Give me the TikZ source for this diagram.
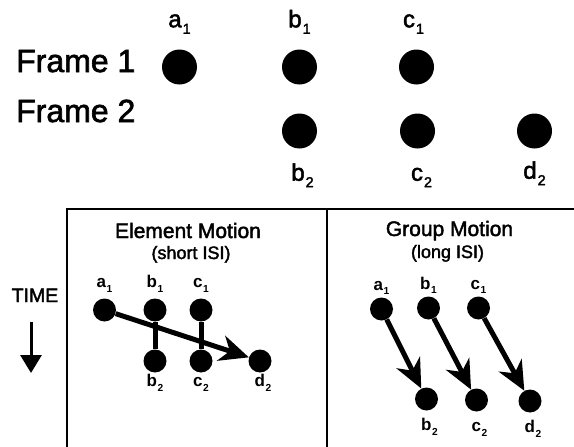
\documentclass[tikz,border=0pt]{standalone}
\usepackage{fontspec}
\setmainfont{Liberation Sans}
\newfontfamily\medfont[FakeBold=2]{Liberation Sans}
\usepackage{graphicx}
\usetikzlibrary{
  positioning,
  arrows.meta
}
\tikzset{
  bigdot/.style={
    circle,
    fill=black,
    inner sep=0pt,
    minimum size=35pt,
  },
  smalldot/.style={
    bigdot,
    minimum size=23pt,
  },
  framelbl/.style={
    font=\medfont\fontsize{32}{38}\selectfont,
    inner sep=0pt,
    anchor=base west,
  },
  ptlbl/.style={
    font=\medfont\fontsize{24}{28}\selectfont,
    inner sep=0pt,
  },
  smlbl/.style={
    font=\fontsize{17}{20}\selectfont\bfseries,
    inner sep=0pt,
  },
  title/.style={
    font=\medfont\fontsize{21}{25}\selectfont,
    inner sep=0pt,
    anchor=base,
  },
  subtitle/.style={
    title,
    font=\medfont\fontsize{18}{22}\selectfont,
  },
  link/.style={
    line width=5pt,
    -,
  },
  move/.style={
    link,
    -{Stealth[length=29pt, width=26pt, inset=9pt]},
  },
  panel/.style={
    line width=2pt,
  },
}
\newcommand{\pnt}[2]{#1\kern.04em\raisebox{-.27em}{\scalebox{.6}{#2}}}

\begin{document}
\begin{tikzpicture}[x=1pt, y=-1pt]
		\useasboundingbox (0,0) rectangle (574,447);

		% frames
		\node[framelbl] (f1) at (16,72) {Frame 1};
		\node[framelbl] (f2) at (16,122) {Frame 2};

		\node[bigdot] (a1) at (179.5,67) {};
		\node[bigdot] (b1) at (299.5,67) {};
		\node[bigdot] (c1) at (416.5,67) {};
		\node[bigdot] (b2) at (299.5,131) {};
		\node[bigdot] (c2) at (417.5,131) {};
		\node[bigdot] (d2) at (534.5,131) {};

		\node[ptlbl, above=22pt of a1, anchor=base] {\pnt{a}{1}};
		\node[ptlbl, above=22pt of b1, anchor=base] {\pnt{b}{1}};
		\node[ptlbl, above=22pt of c1, anchor=base, xshift=-3pt] {\pnt{c}{1}};
		\node[ptlbl, below=32pt of b2, anchor=base, xshift=3pt] {\pnt{b}{2}};
		\node[ptlbl, below=32pt of c2, anchor=base, xshift=4pt] {\pnt{c}{2}};
		\node[ptlbl, below=30pt of d2, anchor=base] {\pnt{d}{2}};

		% panels
		\draw[panel] (67,447) -- (67,209) -- (574,209);
		\draw[panel] (327,209) -- (327,447);

		\node[title] (tel) at (188,238) {Element Motion};
		\node[subtitle] (sel) at (191,259) {(short ISI)};
		\node[title] (tgr) at (449.5,236) {Group Motion};
		\node[subtitle] (sgr) at (447.5,258) {(long ISI)};

		% time
		\node[subtitle, font=\medfont\fontsize{19.5}{23}\selectfont] (time) at (35,302) {TIME};
		\coordinate (t0) at (31,322);
		\coordinate (t1) at (31,373);
		\draw[line width=3pt, -{Triangle[length=18pt, width=21pt]}] (t0) -- (t1);

		% element motion
		\node[smalldot] (a1e) at (104.5,310) {};
		\node[smalldot] (b1e) at (155,310) {};
		\node[smalldot] (c1e) at (201,310) {};
		\node[smalldot] (b2e) at (155,361) {}
		edge [link] (b1e);
		\node[smalldot] (c2e) at (201,361) {}
		edge [link] (c1e);
		\node[smalldot] (d2e) at (260,361) {};
		\draw[move] (a1e) -- (d2e);

		\node[smlbl, above=10.5pt of a1e, anchor=base] {\pnt{a}{1}};
		\node[smlbl, above=10.5pt of b1e, anchor=base] {\pnt{b}{1}};
		\node[smlbl, above=10.5pt of c1e, anchor=base] {\pnt{c}{1}};
		\node[smlbl, below=14pt of b2e, anchor=base] {\pnt{b}{2}};
		\node[smlbl, below=14pt of c2e, anchor=base] {\pnt{c}{2}};
		\node[smlbl, below=14pt of d2e, anchor=base, xshift=3pt] {\pnt{d}{2}};

		% group motion
		\node[smalldot] (a1g) at (381.5,309) {};
		\node[smalldot] (b1g) at (428.5,308) {};
		\node[smalldot] (c1g) at (478.5,308) {};
		\node[smalldot] (b2g) at (426.5,399) {};
		\node[smalldot] (c2g) at (476.5,400) {};
		\node[smalldot] (d2g) at (530,401) {};
		\draw[move] (a1g) -- (b2g);
		\draw[move] (b1g) -- (c2g);
		\draw[move] (c1g) -- (d2g);

		\node[smlbl, above=7pt of a1g, anchor=base] {\pnt{a}{1}};
		\node[smlbl, above=7pt of b1g, anchor=base] {\pnt{b}{1}};
		\node[smlbl, above=7pt of c1g, anchor=base] {\pnt{c}{1}};
		\node[smlbl, below=20pt of b2g, anchor=base, xshift=3pt] {\pnt{b}{2}};
		\node[smlbl, below=20pt of c2g, anchor=base, xshift=3pt] {\pnt{c}{2}};
		\node[smlbl, below=20pt of d2g, anchor=base, xshift=3pt] {\pnt{d}{2}};

	\end{tikzpicture}
\end{document}
